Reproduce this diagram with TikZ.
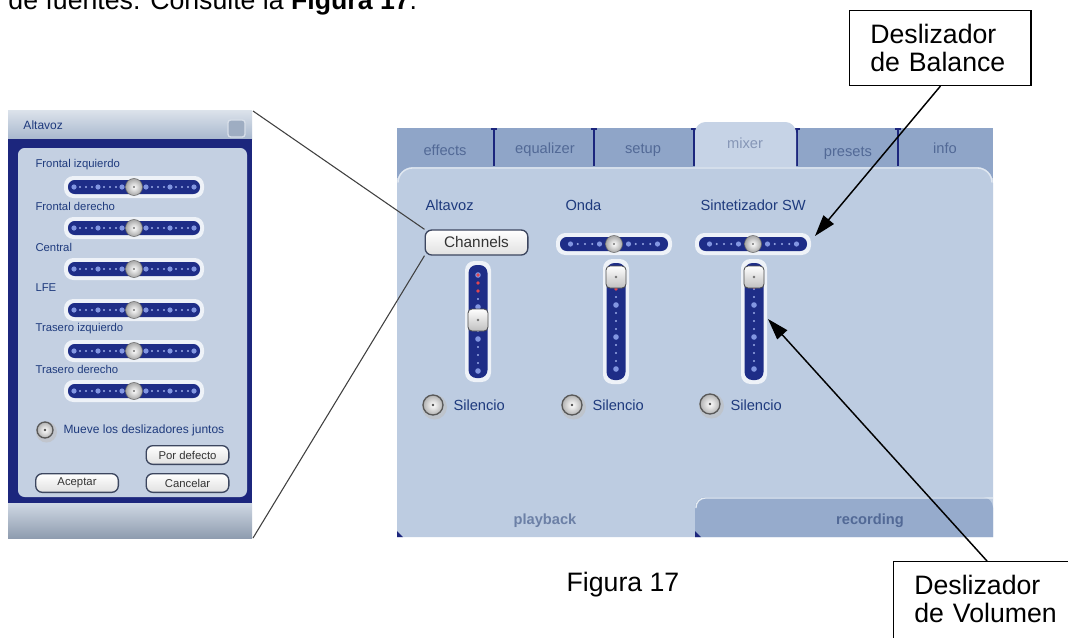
\documentclass[tikz,border=0pt]{standalone}
\usepackage{fontspec}
\setmainfont{Liberation Sans}
\usetikzlibrary{arrows.meta}

\definecolor{winpanel}{RGB}{189,204,225}
\definecolor{tabdark}{RGB}{143,165,200}
\definecolor{tablight}{RGB}{198,211,230}
\definecolor{tabtext}{RGB}{82,105,150}
\definecolor{uiblue}{RGB}{30,58,125}
\definecolor{navy}{RGB}{28,38,125}
\definecolor{trackblue}{RGB}{30,45,135}
\definecolor{dotblue}{RGB}{130,150,225}
\definecolor{dotred}{RGB}{225,70,80}
\definecolor{dlgpanel}{RGB}{196,208,226}
\definecolor{dlgbar}{RGB}{168,184,206}
\definecolor{btnedge}{RGB}{60,70,95}

\tikzset{every picture/.style={line width=0.75pt}}
\tikzset{
  callout/.style={draw, line width=1.1pt, anchor=north west, align=left, text width=105pt,
    inner xsep=15.5pt, inner ysep=10pt, font=\fontsize{20}{21.3}\selectfont},
  pointer/.style={line width=1.1pt, -{Triangle[length=16pt,width=10pt]}},
  zoomline/.style={draw=black!75, line width=0.8pt},
  uibtn/.style={draw=btnedge, line width=1pt, rounded corners=5pt, top color=white,
    bottom color=black!12, inner sep=0pt, text=black!80},
  uilabel/.style={anchor=west, text=uiblue, font=\fontsize{11}{13}\selectfont, inner sep=0pt},
  dlglabel/.style={anchor=west, text=uiblue, font=\fontsize{8.5}{10}\selectfont, inner sep=0pt},
  tablabel/.style={text=tabtext, font=\fontsize{11}{13}\selectfont, inner sep=0pt},
}

% balance slider: centre x, centre y, half length, dot gap, big dots per side
\newcommand{\hslider}[5]{%
  \fill[white!75!winpanel, rounded corners=7pt] (#1-#3-4,#2-11) rectangle (#1+#3+4,#2+11);
  \fill[trackblue, rounded corners=5pt] (#1-#3,#2-7) rectangle (#1+#3,#2+7);
  \foreach \s in {-1,1}{
    \foreach \k in {1,...,#5}{
      \fill[dotblue] ({#1+\s*(\k-0.5)*#4},#2) circle (2.6);
    }
    \foreach \k in {2,...,#5}{
      \foreach \j in {0.25,0.5,0.75}
        \fill[dotblue!80] ({#1+\s*(\k-1.5+\j)*#4},#2) circle (1.1);
    }
  }
  \shade[inner color=white, outer color=black!35] (#1,#2) circle (8.5);
  \draw[black!60, line width=0.4pt] (#1,#2) circle (8.5);
  \fill[black!55] (#1,#2) circle (1.2);
}

% volume slider: centre x, top y, bottom y, knob y, red dots
\newcommand{\vslider}[5]{%
  \fill[white!75!winpanel, rounded corners=7pt] (#1-13,#2-4) rectangle (#1+13,#3+4);
  \fill[trackblue, rounded corners=6pt] (#1-9.5,#2) rectangle (#1+9.5,#3);
  \foreach \k in {0,...,3}
    \fill[dotblue] (#1,#2+10+32*\k) circle (2.8);
  \foreach \k in {0,...,2}{
    \foreach \j in {8,16,24}
      \fill[dotblue!80] (#1,#2+10+32*\k+\j) circle (1.2);
  }
  \foreach \yy in {#5}
    \fill[dotred] (#1,\yy) circle (1.9);
  \shade[top color=white, bottom color=black!25, rounded corners=3pt] (#1-10,#4-11) rectangle (#1+10,#4+11);
  \draw[black!70, line width=0.6pt, rounded corners=3pt] (#1-10,#4-11) rectangle (#1+10,#4+11);
  \fill[black!55] (#1,#4) circle (1.3);
}

% radio button: x, y, radius
\newcommand{\radio}[3]{%
  \fill[black!25, opacity=0.6] (#1+1.5,#2+2) circle (#3+2.5);
  \shade[inner color=white, outer color=black!30] (#1,#2) circle (#3);
  \draw[black!65, line width=1pt] (#1,#2) circle (#3);
  \fill[black!70] (#1,#2) circle (1.3);
}

\begin{document}
\begin{tikzpicture}[x=0.75pt,y=0.75pt,yscale=-1,xscale=1]
\useasboundingbox (0,0) rectangle (1068,637);
\fill[white] (0,0) rectangle (1068,637);

% running text cut by the page top
\node[anchor=base west, inner sep=0pt, font=\fontsize{20}{24}\selectfont] (toptext) at (8,9) {de fuentes. Consulte la \textbf{Figura 17}.};

%% speaker channel dialog
\shade[top color=white!60!dlgbar, bottom color=dlgbar] (8,110) rectangle (252,139);
\filldraw[fill=black!6!dlgbar, draw=white!55!dlgbar, line width=1pt, rounded corners=2pt] (228,120) rectangle (245,137);
\fill[navy] (8,139) rectangle (252,503);
\fill[dlgpanel, rounded corners=5pt] (18,148) rectangle (247,497);
\shade[top color=white!45!dlgbar, bottom color=dlgbar!85!black] (8,503) rectangle (252,538);
\node[dlglabel, font=\fontsize{9}{11}\selectfont] (dlgtitle) at (23,125) {Altavoz};

\foreach \lbl/\yy [count=\i] in {Frontal izquierdo/165, Frontal derecho/206, Central/247,
    LFE/288, Trasero izquierdo/329, Trasero derecho/369}{
  \node[dlglabel] (chan\i) at (35,\yy) {\lbl};
  \hslider{134}{\yy+22}{66}{24}{3}
}

\radio{45}{430}{8}
\node[dlglabel, font=\fontsize{9}{11}\selectfont] (together) at (63,430) {Mueve los deslizadores juntos};
\node[uibtn, minimum width=62pt, minimum height=14pt, font=\fontsize{8.5}{10}\selectfont] (defbtn) at (187.5,455) {Por defecto};
\node[uibtn, minimum width=62pt, minimum height=14pt, font=\fontsize{8.5}{10}\selectfont] (okbtn) at (77,483) {Aceptar};
\node[uibtn, minimum width=62pt, minimum height=14pt, font=\fontsize{8.5}{10}\selectfont] (cancelbtn) at (187.5,483) {Cancelar};

\coordinate (dlgtop) at (253,111);
\coordinate (dlgbot) at (253,538);

%% mixer window
\fill[tabdark] (397,128) rectangle (993,180);
\foreach \sx in {494,594,694,797,898}{
  \draw[navy, line width=1.1pt] (\sx,129) -- (\sx,166);
  \draw[navy, line width=1.1pt] (\sx-3,129) -- (\sx+3,129);
}
\fill[tablight] (695,167) [rounded corners=8pt] -- (695,122) -- (796,122) [sharp corners] -- (796,167) -- cycle;
\fill[winpanel] (397,537) [rounded corners=12pt] -- (397,167) -- (993,167) [sharp corners] -- (993,537) -- cycle;
\draw[white!55!winpanel, line width=1pt] (398,178) [rounded corners=11pt] -- (398,168) -- (992,168) -- (992,178);
\fill[tabdark!85!winpanel] (695,537) [rounded corners=8pt] -- (695,497) -- (993,497) [sharp corners] -- (993,537) -- cycle;
\draw[white!60!winpanel, line width=1pt] (696,508) [rounded corners=7pt] -- (696,498) -- (993,498);
\fill[navy] (397,537) -- (397,531) -- (403,537) -- cycle;
\fill[navy] (695,537) -- (695,531) -- (701,537) -- cycle;

\node[tablabel] (tabeffects) at (445,150) {effects};
\node[tablabel] (tabeq) at (545,150) {equalizer};
\node[tablabel] (tabsetup) at (643,150) {setup};
\node[tablabel, text=tabtext!70!white] (tabmixer) at (745,143) {mixer};
\node[tablabel] (tabpresets) at (848,153) {presets};
\node[tablabel] (tabinfo) at (945,148) {info};
\node[tablabel, font=\bfseries\fontsize{11}{13}\selectfont, text=tabtext!85!white] (tabplay) at (545,521) {playback};
\node[tablabel, font=\bfseries\fontsize{11}{13}\selectfont] (tabrec) at (870,521) {recording};

\node[uilabel] (spklbl) at (425,205) {Altavoz};
\node[uilabel] (wavelbl) at (565,205) {Onda};
\node[uilabel] (synthlbl) at (700,205) {Sintetizador SW};

\node[uibtn, minimum width=77pt, minimum height=18.75pt, font=\fontsize{11.5}{13}\selectfont] (chbtn) at (476.5,242.5) {Channels};
\hslider{614}{244}{54}{29}{2}
\hslider{753}{244}{54}{29}{2}

\vslider{478}{265}{378}{320}{275,283,291}
\vslider{616}{263}{380}{277}{281,289}
\vslider{754}{263}{380}{277}{287}

\radio{433}{405}{10}
\radio{572}{405}{10}
\radio{710}{404}{10}
\node[uilabel] (mute1) at (453,405) {Silencio};
\node[uilabel] (mute2) at (592,405) {Silencio};
\node[uilabel] (mute3) at (730,405) {Silencio};

\coordinate (balknob) at (815,236);
\coordinate (volknob) at (768,319);

%% caption and call-outs
\node[anchor=base, inner sep=0pt, font=\fontsize{20}{24}\selectfont] (caption) at (623,591) {Figura 17};
\node[callout] (balbox) at (849,10) {Deslizador\\de Balance};
\node[callout, text width=170pt] (volbox) at (893,561) {Deslizador\\de Volumen\\\mbox{}};

\draw[pointer] (balbox.south) -- (balknob);
\draw[pointer] ([xshift=70.5pt]volbox.north west) -- (volknob);
\draw[zoomline] (dlgtop) -- (chbtn.north west);
\draw[zoomline] (dlgbot) -- (chbtn.south west);
\end{tikzpicture}
\end{document}
